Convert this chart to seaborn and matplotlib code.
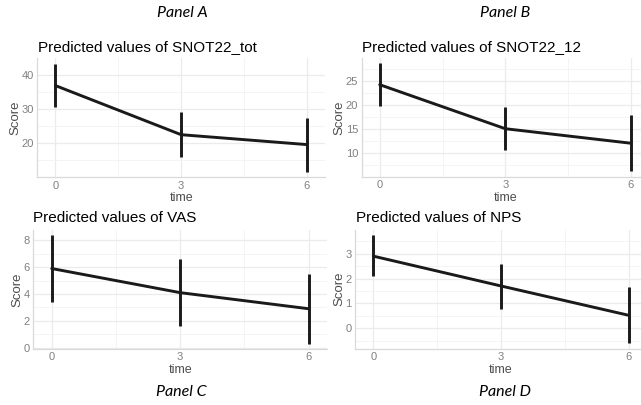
import matplotlib
matplotlib.use("Agg")
import matplotlib.pyplot as plt
import seaborn as sns
import numpy as np
from matplotlib.ticker import MultipleLocator, FixedLocator

sns.set_theme(style="white")
plt.rcParams['font.family'] = ['Liberation Sans', 'DejaVu Sans']

# ---- data ----
time = [0, 3, 6]
panel_labels = ["Panel A", "Panel B", "Panel C", "Panel D"]
titles = ["Predicted values of SNOT22_tot", "Predicted values of SNOT22_12",
          "Predicted values of VAS", "Predicted values of NPS"]

snot_tot_est = [36.9, 22.5, 19.6]
snot_tot_lo = [30.7, 16.0, 11.6]
snot_tot_hi = [43.3, 29.2, 27.3]

snot_12_est = [24.2, 15.1, 12.1]
snot_12_lo = [19.7, 10.6, 6.3]
snot_12_hi = [28.6, 19.6, 17.9]

vas_est = [5.9, 4.1, 2.9]
vas_lo = [3.4, 1.6, 0.3]
vas_hi = [8.4, 6.6, 5.5]

nps_est = [2.9, 1.7, 0.52]
nps_lo = [2.09, 0.77, -0.61]
nps_hi = [3.75, 2.6, 1.65]

x_ticks = [0, 3, 6]
y_ticks = [[20, 30, 40], [10, 15, 20, 25], [0, 2, 4, 6, 8], [0, 1, 2, 3]]
y_minor = [5, 2.5, 1, 0.5]

series = [(snot_tot_est, snot_tot_lo, snot_tot_hi),
          (snot_12_est, snot_12_lo, snot_12_hi),
          (vas_est, vas_lo, vas_hi),
          (nps_est, nps_lo, nps_hi)]

# ---- layout (pixels) ----
W, H = 641, 405
fig = plt.figure(figsize=(W / 100, H / 100), dpi=100)
fig.patch.set_facecolor("white")

boxes = [(37.3, 58.3, 325, 177.3),
         (361.7, 58.0, 649, 176.7),
         (33.3, 229.6, 327, 349.0),
         (355.0, 229.6, 647, 348.8)]
title_pos = [(38, 47), (362, 47), (33, 218), (356, 218)]
label_pos = [(182, 13), (505, 13), (181, 392), (505, 392)]

line_col = "#1a1a1a"
grid_col = "#ebebeb"
tick_col = "#808080"
lab_col = "#4d4d4d"

for i, (est, lo, hi) in enumerate(series):
    l, t, r, b = boxes[i]
    ax = fig.add_axes([l / W, 1 - b / H, (r - l) / W, (b - t) / H])
    ax.set_facecolor("white")
    sns.lineplot(x=time, y=est, ax=ax, color=line_col, linewidth=2.1)
    ax.vlines(time, lo, hi, color=line_col, linewidth=2.1)
    rng = max(hi) - min(lo)
    ax.set_ylim(min(lo) - 0.05 * rng, max(hi) + 0.05 * rng)
    ax.set_xlim(-0.43, 6.43)
    ax.set_xticks(x_ticks)
    ax.xaxis.set_minor_locator(FixedLocator([1.5, 4.5]))
    ax.set_yticks(y_ticks[i])
    ax.yaxis.set_minor_locator(MultipleLocator(y_minor[i]))
    ax.grid(True, which="major", color=grid_col, linewidth=0.9)
    ax.grid(True, which="minor", color="#f2f2f2", linewidth=0.6)
    ax.set_axisbelow(True)
    for s in ["top", "right"]:
        ax.spines[s].set_visible(False)
    for s in ["left", "bottom"]:
        ax.spines[s].set_visible(True)
        ax.spines[s].set_color("#d9d9d9")
        ax.spines[s].set_linewidth(0.9)
    ax.tick_params(axis="both", which="both", length=0, labelsize=8,
                   labelcolor=tick_col, pad=2.5)
    ax.set_xlabel("time", fontsize=9, color=lab_col, labelpad=1)
    ax.set_ylabel("Score", fontsize=9.5, color=lab_col, labelpad=0)
    tx, ty = title_pos[i]
    fig.text(tx / W, 1 - ty / H, titles[i], fontsize=11, color="black",
             ha="left", va="center")
    px, py = label_pos[i]
    fig.text(px / W, 1 - py / H, panel_labels[i], fontsize=11.5,
             family=["Lato", "DejaVu Sans"], style="italic", color="#000000",
             ha="center", va="center")

fig.savefig("out.png", dpi=100, facecolor="white")
